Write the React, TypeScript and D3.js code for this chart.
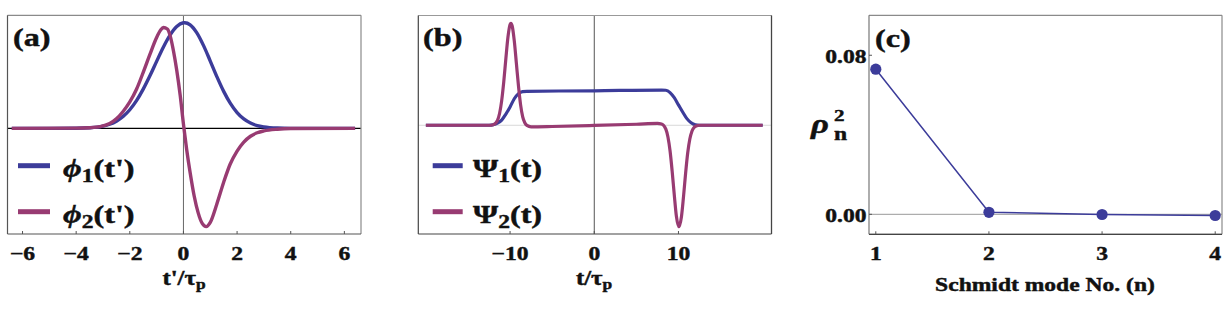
import React from "react";
import * as d3 from "d3";

// ---------- data ----------
// Panel (a): Schmidt mode functions vs t'/tau_p
const tA1 = [-6.4, -5, -4, -3.5, -3, -2.75, -2.5, -2.25, -2, -1.75, -1.5, -1.25, -1, -0.75, -0.5, -0.25, 0, 0.05, 0.25, 0.5, 0.75, 1, 1.25, 1.5, 1.75, 2, 2.25, 2.5, 2.75, 3, 3.5, 4, 5, 6.4];
const phi1 = [0, 0, 0.001, 0.0055, 0.021, 0.039, 0.068, 0.112, 0.176, 0.262, 0.371, 0.497, 0.634, 0.768, 0.882, 0.963, 0.999, 1.0, 0.98, 0.904, 0.783, 0.637, 0.487, 0.35, 0.236, 0.149, 0.089, 0.05, 0.026, 0.013, 0.0026, 0, 0, 0];
const tA2 = [-6.4, -4, -3.5, -3.1, -2.75, -2.5, -2.25, -2, -1.75, -1.5, -1.25, -1, -0.85, -0.75, -0.6, -0.5, -0.37, -0.25, -0.12, 0, 0.12, 0.25, 0.4, 0.55, 0.7, 0.85, 1.0, 1.24, 1.5, 1.74, 2.0, 2.25, 2.5, 2.75, 3.0, 3.5, 4.0, 6.4];
const phi2 = [0, 0.002, 0.006, 0.016, 0.045, 0.09, 0.16, 0.25, 0.37, 0.53, 0.7, 0.86, 0.93, 0.955, 0.94, 0.88, 0.73, 0.55, 0.31, 0.04, -0.2, -0.42, -0.64, -0.8, -0.9, -0.93, -0.89, -0.72, -0.51, -0.34, -0.215, -0.13, -0.075, -0.042, -0.024, -0.008, -0.002, 0];
const ticksA = [-6, -4, -2, 0, 2, 4, 6];

// Panel (b): Psi functions vs t/tau_p
const tB1 = [-20, -12.5, -12, -11.5, -11, -10.5, -10, -9.5, -9, -8.5, -8, 0, 8, 8.5, 9, 9.5, 10, 10.5, 11, 11.5, 12, 12.5, 20];
const psi1 = [0, 0, 0.005, 0.02, 0.05, 0.11, 0.18, 0.26, 0.31, 0.33, 0.333, 0.338, 0.345, 0.343, 0.32, 0.27, 0.2, 0.13, 0.065, 0.025, 0.005, 0, 0];
const tB2 = [-20, -12.5, -12, -11.5, -11, -10.75, -10.5, -10.25, -10, -9.9, -9.75, -9.5, -9.25, -9, -8.75, -8.5, -8.25, -8, -7.5, -5, 0, 5, 7.5, 8, 8.5, 8.75, 9, 9.25, 9.5, 9.75, 10.05, 10.35, 10.6, 10.85, 11.1, 11.35, 11.6, 11.85, 12.1, 12.5, 20];
const psi2 = [0, 0, 0.0055, 0.048, 0.239, 0.425, 0.653, 0.865, 0.988, 1.0, 0.974, 0.827, 0.607, 0.383, 0.2, 0.083, 0.025, -0.001, -0.015, -0.012, -0.002, 0.01, 0.018, 0.013, -0.038, -0.115, -0.25, -0.45, -0.68, -0.89, -0.995, -0.9, -0.7, -0.469, -0.27, -0.135, -0.058, -0.022, -0.007, 0, 0];
const ticksB = [-10, 0, 10];

// Panel (c): Schmidt eigenvalues
const modes = [1, 2, 3, 4];
const rho2 = [0.073, 0.001, -0.0001, -0.0006];
const ticksCy = [0, 0.08];

// ---------- style ----------
const BLUE = "#3c3c9a";
const PURPLE = "#983b72";
const FONT = "'Liberation Serif', 'Times New Roman', serif";
const SX = 1.24;

const fmtMinus = (v: number, digits = 0) =>
  (v < 0 ? "\u2212" : "") + Math.abs(v).toFixed(digits);

function Txt(props: any) {
  const { x, y, size, anchor = "start", italic = false, children, fill = "#111" } = props;
  return (
    <text
      transform={`translate(${x},${y}) scale(${SX},1)`}
      fontFamily={FONT}
      fontWeight="bold"
      fontSize={size}
      textAnchor={anchor}
      fontStyle={italic ? "italic" : "normal"}
      fill={fill}
      stroke={fill}
      strokeWidth={0.45}
    >
      {children}
    </text>
  );
}

function Frame({ l, r, t, b, light = "#8a8a8a", dark = "#555" }: any) {
  return (
    <g fill="none" strokeWidth={1.2}>
      <line x1={l} x2={r} y1={t} y2={t} stroke={light} />
      <line x1={r} x2={r} y1={t} y2={b} stroke={light} />
      <line x1={l} x2={l} y1={t} y2={b} stroke={dark} />
      <line x1={l} x2={r} y1={b} y2={b} stroke={dark} />
    </g>
  );
}

function PanelA() {
  const L = 7.5, R = 361, T = 15.3, B = 234;
  const x = d3.scaleLinear().domain([-6.56, 6.62]).range([L, R]);
  const y = d3.scaleLinear().domain([-1.0, 1.07]).range([B, T]);
  const mk = (ts: number[]) =>
    d3.line<number>().x((_, i) => x(ts[i])).y((d) => y(d)).curve(d3.curveMonotoneX);
  return (
    <g>
      <line x1={L} x2={R} y1={y(0)} y2={y(0)} stroke="#000" strokeWidth={1.2} />
      <line x1={x(0)} x2={x(0)} y1={T} y2={B} stroke="#666" strokeWidth={1} />
      <path d={mk(tA1)(phi1) || ""} fill="none" stroke={BLUE} strokeWidth={3.4} />
      <path d={mk(tA2)(phi2) || ""} fill="none" stroke={PURPLE} strokeWidth={3.4} />
      <Frame l={L} r={R} t={T} b={B} />
      {ticksA.map((v) => (
        <g key={v}>
          <line x1={x(v)} x2={x(v)} y1={B} y2={B - 3} stroke="#555" />
          <Txt x={x(v)} y={259.5} size={19} anchor="middle">{fmtMinus(v)}</Txt>
        </g>
      ))}
      <Txt x={184} y={285} size={20} anchor="middle">
        t'/τ<tspan fontSize={14} dy={4}>p</tspan>
      </Txt>
      <Txt x={13} y={46} size={26}>(a)</Txt>
      <line x1={18} x2={50} y1={165.7} y2={165.7} stroke={BLUE} strokeWidth={5} />
      <line x1={18} x2={50} y1={211.7} y2={211.7} stroke={PURPLE} strokeWidth={5} />
      <Txt x={63} y={176.5} size={26}>
        <tspan fontStyle="italic">{"\u03D5"}</tspan>
        <tspan fontSize={19} dy={5}>1</tspan>
        <tspan dy={-5}>(t')</tspan>
      </Txt>
      <Txt x={63} y={222.5} size={26}>
        <tspan fontStyle="italic">{"\u03D5"}</tspan>
        <tspan fontSize={19} dy={5}>2</tspan>
        <tspan dy={-5}>(t')</tspan>
      </Txt>
    </g>
  );
}

function PanelB() {
  const L = 418.3, R = 771.5, T = 15.5, B = 234;
  const x = d3.scaleLinear().domain([-20.9, 21.05]).range([L, R]);
  const y = d3.scaleLinear().domain([-1.066, 1.076]).range([B, T]);
  const mk = (ts: number[]) =>
    d3.line<number>().x((_, i) => x(ts[i])).y((d) => y(d)).curve(d3.curveMonotoneX);
  return (
    <g>
      <line x1={L} x2={R} y1={y(0)} y2={y(0)} stroke="#d8d8d8" strokeWidth={1} />
      <line x1={x(0)} x2={x(0)} y1={T} y2={B} stroke="#555" strokeWidth={1} />
      <path d={mk(tB1)(psi1) || ""} fill="none" stroke={BLUE} strokeWidth={3.2} />
      <path d={mk(tB2)(psi2) || ""} fill="none" stroke={PURPLE} strokeWidth={3.2} />
      <Frame l={L} r={R} t={T} b={B} light="#999" dark="#444" />
      <line x1={R} x2={R} y1={T} y2={B} stroke="#444" strokeWidth={1.2} />
      {ticksB.map((v) => (
        <g key={v}>
          <line x1={x(v)} x2={x(v)} y1={B} y2={B - 3} stroke="#555" />
          <Txt x={x(v)} y={259.5} size={19} anchor="middle">{fmtMinus(v)}</Txt>
        </g>
      ))}
      <Txt x={594} y={285} size={20} anchor="middle">
        t/τ<tspan fontSize={14} dy={4}>p</tspan>
      </Txt>
      <Txt x={423} y={46} size={26}>(b)</Txt>
      <line x1={432.7} x2={462.7} y1={165.7} y2={165.7} stroke={BLUE} strokeWidth={5} />
      <line x1={432.7} x2={462.7} y1={211.7} y2={211.7} stroke={PURPLE} strokeWidth={5} />
      <Txt x={473} y={176.5} size={26}>
        Ψ<tspan fontSize={19} dy={5}>1</tspan>
        <tspan dy={-5}>(t)</tspan>
      </Txt>
      <Txt x={473} y={222.5} size={26}>
        Ψ<tspan fontSize={19} dy={5}>2</tspan>
        <tspan dy={-5}>(t)</tspan>
      </Txt>
    </g>
  );
}

function PanelC() {
  const L = 869, R = 1222, T = 15.3, B = 234.3;
  const x = d3.scaleLinear().domain([0.94, 4.06]).range([L, R]);
  const y = d3.scaleLinear().domain([-0.01006, 0.1001]).range([B, T]);
  const line = d3.line<number>().x((_, i) => x(modes[i])).y((d) => y(d));
  return (
    <g>
      <line x1={L} x2={R} y1={y(0)} y2={y(0)} stroke="#999" strokeWidth={1} />
      <path d={line(rho2) || ""} fill="none" stroke={BLUE} strokeWidth={1.5} />
      {rho2.map((v, i) => (
        <circle key={i} cx={x(modes[i])} cy={y(v)} r={5.6} fill={BLUE} />
      ))}
      <Frame l={L} r={R} t={T} b={B} light="#8a8a8a" dark="#777" />
      <line x1={L} x2={R} y1={B} y2={B} stroke="#444" strokeWidth={1.2} />
      {modes.map((v) => (
        <g key={v}>
          <line x1={x(v)} x2={x(v)} y1={B} y2={B - 3} stroke="#555" />
          <Txt x={x(v)} y={259.5} size={19} anchor="middle">{String(v)}</Txt>
        </g>
      ))}
      {ticksCy.map((v) => (
        <g key={v}>
          <line x1={L} x2={L + 3} y1={y(v)} y2={y(v)} stroke="#555" />
          <Txt x={866.5} y={y(v) + 7.5} size={19} anchor="end">{v.toFixed(2)}</Txt>
        </g>
      ))}
      <Txt x={1045} y={291} size={19} anchor="middle">Schmidt mode No. (n)</Txt>
      <Txt x={875} y={47} size={26}>(c)</Txt>
      <Txt x={811} y={133} size={28} italic>ρ</Txt>
      <Txt x={834} y={121} size={17}>2</Txt>
      <Txt x={834} y={140} size={19}>n</Txt>
    </g>
  );
}

export default function App() {
  return (
    <svg
      width={1225}
      height={318}
      viewBox="0 0 1225 318"
      style={{ position: "absolute", left: 0, top: 0, background: "#fff" }}
    >
      <rect x={0} y={0} width={1225} height={318} fill="#fff" />
      <PanelA />
      <PanelB />
      <PanelC />
    </svg>
  );
}
